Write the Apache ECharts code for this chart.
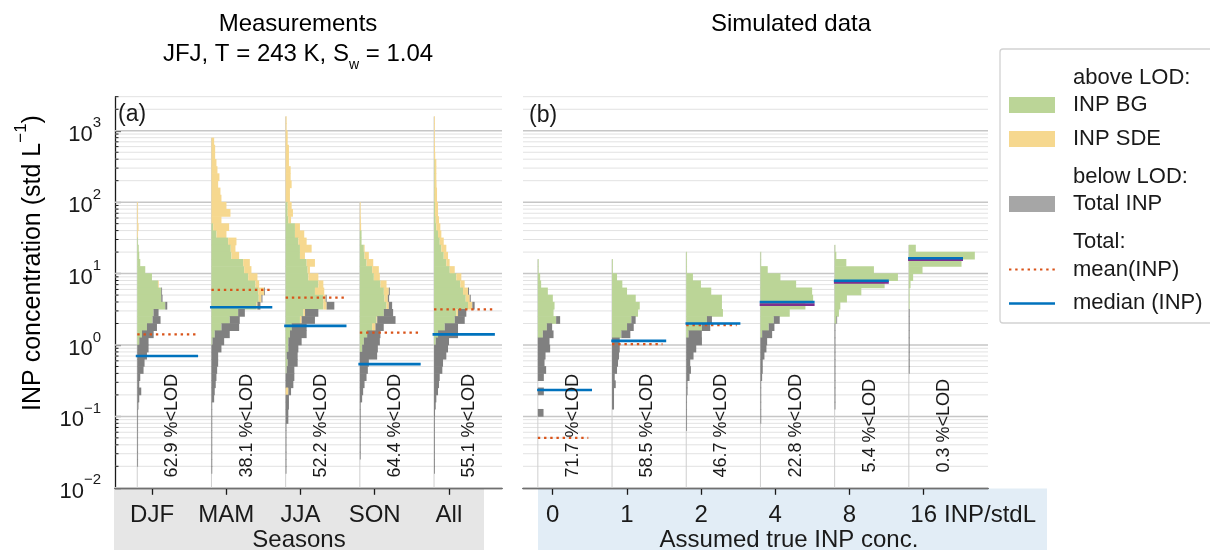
<!DOCTYPE html>
<html>
<head>
<meta charset="utf-8">
<script src="https://cdn.jsdelivr.net/npm/echarts@6/dist/echarts.min.js"></script>
<style>
html, body { margin: 0; padding: 0; background: #fff; }
#chart { width: 1210px; height: 550px; }
</style>
</head>
<body>
<div id="chart"></div>
<script>
// categories and labels
var seasons = ['DJF', 'MAM', 'JJA', 'SON', 'All'];
var trueConc = ['0', '1', '2', '4', '8', '16'];
var seasonLod = ['62.9', '38.1', '52.2', '64.4', '55.1'];
var simLod = ['71.7', '58.5', '46.7', '22.8', '5.4', '0.3'];

// mean / median lines (std L-1)
var seasonMean = [1.41, 5.9, 4.6, 1.49, 3.16];
var seasonMedian = [0.70, 3.37, 1.85, 0.54, 1.41];
var simMean = [0.05, 1.03, 1.9, null, null, null];
var simMedian = [0.234, 1.14, 2.0, 4.0, 7.95, 16.4];
var simAbove = [null, null, null, 3.67, 7.55, 15.7];

var yTicks = [0.01, 0.1, 1, 10, 100, 1000];

// histograms, 0.1 decade bins, listed from the top bin (log10 of its lower edge) downwards
// BG = INP BG above LOD, SDE = INP SDE above LOD, LOD = total INP below LOD
var djfTop = 1.9;
var djfBG  = [0, 0, 0, 0, 0, 0.6, 1.5, 2, 3, 8, 14.7, 20.7, 24, 24, 28, 16.3, 15.3, 9.7, 4.7, 2];
var djfSDE = [0.6, 0.6, 0.6, 1.3, 0.6, 0, 0, 0, 0, 0, 0, 0.7];
var djfLOD = [0, 0, 0, 0, 0, 0, 0, 0, 0, 0, 0, 0, 0.7, 1.3, 2, 5, 8, 10, 11.7, 9.3, 11.3, 9.7, 7.3, 6.3, 3, 2, 4, 2, 1.2,
              0.6, 0.6, 0.6, 0.6, 0.6, 0.6, 0.6, 0.6];

var mamTop = 2.8;
var mamBG  = [0, 0, 0, 0, 0, 0, 0, 0, 0, 0, 0, 0, 1.7, 5, 16.7, 19.3, 20, 31.7, 32.7, 36.7, 44, 46.7, 47.3, 45, 26.7, 18.3, 10, 3.3, 1];
var mamSDE = [2.7, 3.7, 3.7, 5, 6, 8, 6.7, 9, 10, 15, 19, 10, 16, 10, 8.3, 4.7, 7.7, 6.7, 7.3, 9.3, 3.7, 6, 2.7, 1];
var mamLOD = [0, 0, 0, 0, 0, 0, 0, 0, 0, 0, 0, 0, 0, 0, 0, 0, 0, 0, 0, 0, 0, 0.5, 1, 3, 6.7, 10, 17.7, 15, 11.7, 10, 6.7, 6.7, 5.7, 5, 4.3, 3.3, 2.7,
              0.6, 0.6, 0.6, 0.6, 0.6, 0.6, 0.6, 0.6, 0.6, 0.6];

var jjaTop = 3.1;
var jjaBG  = [0, 0, 0, 0, 0, 0, 0, 0, 0, 0, 0, 0, 2, 2, 2.7, 9.3, 9.3, 12.7, 14.3, 14.3, 21, 22, 22.7, 32.7, 29.3, 37.7, 37.7, 17.7, 14.3, 6, 4.3, 2.7, 2.7, 1, 2, 1];
var jjaSDE = [1, 1, 2, 2, 3.3, 3.3, 3.3, 5, 5, 6, 4.3, 4.3, 4, 5.3, 2.7, 5, 9.3, 8.3, 11.7, 5, 8.3, 2.3, 10, 5, 9.3, 2.3, 3.3, 1.7, 1.7,
              0, 0, 0, 0, 0, 0, 0, 0, 0, 2.7];
var jjaLOD = [0, 0, 0, 0, 0, 0, 0, 0, 0, 0, 0, 0, 0, 0, 0, 0, 0, 0, 0, 0, 0, 0, 0, 0, 0, 1, 7.7, 13.3, 13.3, 15, 16.7, 13.3, 10, 11, 10, 7.7, 8.7, 7.7, 2.7, 3.3, 3.3, 2.7, 2.7,
              0.6, 0.6, 0.6, 0.6, 0.6, 0.6, 0.6];

var sonTop = 1.9;
var sonBG  = [0, 0, 0, 0, 1.7, 1.7, 4, 4.7, 6.7, 12.3, 14, 20.7, 24, 24.7, 26.7, 24, 16.7, 12.3, 7.3, 4, 2.3];
var sonSDE = [0.6, 0.7, 1, 1.3, 0, 0, 0.7, 4.3, 6.7, 6.7, 6, 6, 5, 3.3, 2.3, 0, 0.7, 3.3];
var sonLOD = [0, 0, 0, 0, 0, 0, 0, 0, 0, 0, 0, 0, 1, 1.3, 3.3, 9.3, 18.3, 8.3, 13.3, 16, 15.7, 17.3, 9, 8, 6.7, 4.7, 3.3, 2.3,
              0.6, 0.6, 0.6, 0.6, 0.6, 0.6, 0.6, 0.6];

var allTop = 3.1;
var allBG  = [0, 0, 0, 0, 0, 0, 0.5, 0.5, 0.5, 0.5, 0.5, 0.5, 1, 1, 1.7, 2.3, 4, 5.7, 7.3, 9.7, 12.3, 15.7, 22.3, 26.3, 29, 31.7, 34, 22.3, 20.7, 10.7, 4, 1.7];
var allSDE = [0.6, 0.6, 0.7, 0.7, 1, 1.2, 1.8, 1.8, 1.8, 2, 2.5, 2.5, 3, 3, 3.3, 4, 3.3, 4, 5, 4.3, 3.3, 5, 5, 4.3, 5, 4, 4.3, 1.7];
var allLOD = [0, 0, 0, 0, 0, 0, 0, 0, 0, 0, 0, 0, 0, 0, 0, 0, 0, 0, 0, 0, 0, 0, 0, 0, 1, 1, 2.3, 8.3, 10, 13.3, 20, 13.3, 14, 12.3, 9, 8.3, 5.7, 5, 4, 2.3, 1.7, 1,
              0.6, 0.6, 0.6, 0.6, 0.6, 0.6, 0.6, 0.6];

var c0Top = 1.1;
var c0BG  = [0.7, 0.7, 2.3, 3.3, 10, 15, 16.7, 15.7, 18.3, 9, 5];
var c0LOD = [0, 0, 0, 0, 0, 0, 0, 0, 4, 5.3, 10.7, 11.7, 12.3, 7.7, 6.7, 8.3, 6, 0, 6, 0, 0, 5.7];

var c1Top = 1.1;
var c1BG  = [0.7, 0.7, 5, 10.3, 15, 23.7, 27.7, 26, 19.3, 15, 9.3];
var c1LOD = [0, 0, 0, 0, 0, 0, 0, 0, 4.3, 6.7, 9, 7.7, 7.7, 7, 6, 5, 2.7, 3.7, 2, 2, 2];

var c2Top = 1.2;
var c2BG  = [0.7, 0.7, 0.7, 6.7, 14.7, 25, 35.7, 35.7, 36.7, 20.7, 15.7, 2.3];
var c2LOD = [0, 0, 0, 0, 0, 0, 0, 0, 0, 5, 8.3, 13.3, 15.7, 10, 7.3, 4, 4.7, 3.3, 1.3, 1.3, 0.6, 0.6, 0.6, 0.6, 0.6];

var c4Top = 1.2;
var c4BG  = [0.7, 0.7, 7.3, 20, 35.7, 51.7, 52.7, 45, 29.3, 13.3, 8.3, 1.7];
var c4LOD = [0, 0, 0, 0, 0, 0, 0, 0, 0, 6, 5.7, 10, 6.7, 6, 4, 2.3, 2.3, 1.7, 0.6, 0.6, 0.6, 0.6, 0.6, 0.6];

var c8Top = 1.3;
var c8BG  = [0.7, 1.7, 11.7, 39.3, 63.3, 50, 26.7, 12.3, 5.7, 4.3, 1.7];
var c8LOD = [0, 0, 0, 0, 0, 0, 0, 0, 0, 0, 0.7, 0.6, 0.6, 0.6, 0.6, 0.6, 0.6, 0.6, 0.6, 0.6, 0.6, 0.6, 0.6];

var c16Top = 1.3;
var c16BG  = [7, 66, 52.7, 13.7, 4.3, 1.7, 0.6, 0.6, 0.6];
var c16LOD = [0, 0, 0, 0, 0, 0, 0, 0, 0, 0.6, 0.6, 0.6, 0.6, 0.6, 0.6, 0.6, 0.6, 0.6];

// layout / style
var FONT = '"Liberation Sans", Arial, Helvetica, sans-serif';
var INK = '#1a1a1a';
var C_BG = '#bbd597', C_SDE = '#f6d88f', C_LOD = '#808080';
var C_MEAN = '#d95319', C_MED = '#0072bd', C_PURPLE = '#7e2f8e';
var xRangeA = [-0.5, 4.716];
var xRangeB = [-0.4, 5.867];
var BASE = -0.2;          // histogram baseline relative to the category tick
var PER_COUNT = 1 / 74.2; // bar length per count, in category units
var LOD_Y = 0.074;        // vertical centre of the "% <LOD" labels

function histRows(cat, top, bg, sde, lod) {
  var n = Math.max(bg.length, sde.length, lod.length), rows = [];
  for (var i = 0; i < n; i++) {
    var lo = Math.round((top - 0.1 * i) * 10) / 10;
    rows.push([cat, Math.pow(10, lo), Math.pow(10, lo + 0.1), bg[i] || 0, sde[i] || 0, lod[i] || 0]);
  }
  return rows;
}

var histA = [].concat(
  histRows(0, djfTop, djfBG, djfSDE, djfLOD),
  histRows(1, mamTop, mamBG, mamSDE, mamLOD),
  histRows(2, jjaTop, jjaBG, jjaSDE, jjaLOD),
  histRows(3, sonTop, sonBG, sonSDE, sonLOD),
  histRows(4, allTop, allBG, allSDE, allLOD)
);
var histB = [].concat(
  histRows(0, c0Top, c0BG, [], c0LOD),
  histRows(1, c1Top, c1BG, [], c1LOD),
  histRows(2, c2Top, c2BG, [], c2LOD),
  histRows(3, c4Top, c4BG, [], c4LOD),
  histRows(4, c8Top, c8BG, [], c8LOD),
  histRows(5, c16Top, c16BG, [], c16LOD)
);
var topsA = [djfTop, mamTop, jjaTop, sonTop, allTop];
var topsB = [c0Top, c1Top, c2Top, c4Top, c8Top, c16Top];

function renderHist(params, api) {
  var x = api.value(0) + BASE, lo = api.value(1), hi = api.value(2);
  var parts = [[api.value(3), C_BG], [api.value(4), C_SDE], [api.value(5), C_LOD]];
  var children = [];
  parts.forEach(function (p) {
    if (!(p[0] > 0)) return;
    var a = api.coord([x, hi]), b = api.coord([x + p[0] * PER_COUNT, lo]);
    children.push({
      type: 'rect',
      shape: { x: a[0], y: a[1] - 0.3, width: Math.max(b[0] - a[0], 0.8), height: b[1] - a[1] + 0.6 },
      style: { fill: p[1] }
    });
    x += p[0] * PER_COUNT;
  });
  return { type: 'group', children: children };
}

// grid lines at 1..9 x 10^n
var gridVals = [];
for (var e = -2; e <= 3; e++) {
  for (var k = 1; k <= 9; k++) {
    var gv = k * Math.pow(10, e);
    if (gv <= 3000) gridVals.push([k, gv]);
  }
}
function renderGrid(range) {
  return function (params, api) {
    var v = api.value(1), a = api.coord([range[0], v]), b = api.coord([range[1], v]);
    var major = api.value(0) === 1;
    return {
      type: 'line',
      shape: { x1: a[0], y1: a[1], x2: b[0], y2: b[1] },
      style: { stroke: major ? '#c6c6c6' : '#e2e2e2', lineWidth: major ? 1.5 : 1 }
    };
  };
}
function renderMinorTick(params, api) {
  var a = api.coord([xRangeA[0], api.value(1)]);
  var len = api.value(0) === 1 ? 0 : 3.5;
  return { type: 'line', shape: { x1: a[0], y1: a[1], x2: a[0] + len, y2: a[1] }, style: { stroke: INK, lineWidth: 1 } };
}
function renderBaseline(tops) {
  return function (params, api) {
    var c = api.value(0) + BASE;
    var a = api.coord([c, 0.01]), b = api.coord([c, Math.pow(10, tops[params.dataIndex] + 0.1)]);
    return { type: 'line', shape: { x1: a[0], y1: a[1], x2: b[0], y2: b[1] }, style: { stroke: '#cfcfcf', lineWidth: 1 } };
  };
}
function renderStat(x1, x2, color, width, dash) {
  return function (params, api) {
    var c = api.value(0), v = api.value(1);
    var a = api.coord([c + x1, v]), b = api.coord([c + x2, v]);
    return {
      type: 'line',
      shape: { x1: a[0], y1: a[1], x2: b[0], y2: b[1] },
      style: { stroke: color, lineWidth: width, lineDash: dash || null }
    };
  };
}
function renderLod(labels) {
  return function (params, api) {
    var p = api.coord([api.value(0) + 0.275, api.value(1)]);
    return {
      type: 'text', x: p[0], y: p[1], rotation: Math.PI / 2,
      style: { text: labels[params.dataIndex] + ' %<LOD', fontSize: 18, fontFamily: FONT, fill: INK, align: 'center', verticalAlign: 'middle' }
    };
  };
}
function pairs(values) {
  var out = [];
  values.forEach(function (v, i) { if (v != null) out.push([i, v]); });
  return out;
}
function cats(list) { return list.map(function (s, i) { return i; }); }
function lodPoints(list) { return list.map(function (s, i) { return [i, LOD_Y]; }); }

var chart = echarts.init(document.getElementById('chart'), null, { renderer: 'canvas' });

function xAxisOf(grid, range, names) {
  return {
    type: 'value', gridIndex: grid, min: range[0], max: range[1],
    axisLine: { show: true, onZero: false, lineStyle: { color: INK, width: 1.3 } },
    axisTick: { show: true, customValues: cats(names), length: 7, lineStyle: { color: INK, width: 1.3 } },
    axisLabel: {
      customValues: cats(names), formatter: function (v) { return names[Math.round(v)]; },
      fontSize: 24, fontFamily: FONT, color: INK, margin: 16
    },
    splitLine: { show: false }
  };
}

var option = {
  animation: false,
  backgroundColor: '#fff',
  textStyle: { fontFamily: FONT },
  grid: [
    { left: 115, top: 96.7, width: 387, height: 391.1, containLabel: false, outerBoundsMode: 'none' },
    { left: 523, top: 96.7, width: 465, height: 391.1, containLabel: false, outerBoundsMode: 'none' }
  ],
  xAxis: [xAxisOf(0, xRangeA, seasons), xAxisOf(1, xRangeB, trueConc)],
  yAxis: [
    {
      type: 'log', logBase: 10, gridIndex: 0, min: 0.01, max: 3000,
      axisLine: { show: true, onZero: false, lineStyle: { color: INK, width: 1.3 } },
      axisTick: { show: true, inside: true, length: 6, customValues: yTicks, lineStyle: { color: INK, width: 1.2 } },
      axisLabel: {
        customValues: yTicks, margin: 14, color: INK,
        formatter: function (v) { return '{b|10}{s|' + String(Math.round(Math.log10(v))).replace('-', '\u2212') + '}'; },
        rich: {
          b: { fontSize: 22, fontFamily: FONT, color: INK, lineHeight: 30, verticalAlign: 'bottom' },
          s: { fontSize: 15, fontFamily: FONT, color: INK, verticalAlign: 'top' }
        }
      },
      splitLine: { show: false }
    },
    { type: 'log', logBase: 10, gridIndex: 1, min: 0.01, max: 3000, show: false, axisLine: { onZero: false } }
  ],
  series: [
    { type: 'custom', xAxisIndex: 0, yAxisIndex: 0, z: 1, silent: true, data: gridVals, renderItem: renderGrid(xRangeA) },
    { type: 'custom', xAxisIndex: 1, yAxisIndex: 1, z: 1, silent: true, data: gridVals, renderItem: renderGrid(xRangeB) },
    { type: 'custom', xAxisIndex: 0, yAxisIndex: 0, z: 5, silent: true, data: gridVals, renderItem: renderMinorTick },
    { type: 'custom', xAxisIndex: 0, yAxisIndex: 0, z: 2, silent: true, data: lodPoints(seasons), renderItem: renderBaseline(topsA) },
    { type: 'custom', xAxisIndex: 1, yAxisIndex: 1, z: 2, silent: true, data: lodPoints(trueConc), renderItem: renderBaseline(topsB) },
    { type: 'custom', name: 'hist A', xAxisIndex: 0, yAxisIndex: 0, z: 3, data: histA, renderItem: renderHist },
    { type: 'custom', name: 'hist B', xAxisIndex: 1, yAxisIndex: 1, z: 3, data: histB, renderItem: renderHist },
    { type: 'custom', name: 'mean A', xAxisIndex: 0, yAxisIndex: 0, z: 4, data: pairs(seasonMean), renderItem: renderStat(-0.2, 0.6, C_MEAN, 2.2, [2.4, 3.8]) },
    { type: 'custom', name: 'median A', xAxisIndex: 0, yAxisIndex: 0, z: 4, data: pairs(seasonMedian), renderItem: renderStat(-0.22, 0.62, C_MED, 2.6) },
    { type: 'custom', name: 'mean B', xAxisIndex: 1, yAxisIndex: 1, z: 4, data: pairs(simMean), renderItem: renderStat(-0.2, 0.48, C_MEAN, 2.2, [2.4, 3.8]) },
    { type: 'custom', name: 'above B', xAxisIndex: 1, yAxisIndex: 1, z: 4, data: pairs(simAbove), renderItem: renderStat(-0.21, 0.53, C_PURPLE, 2.8) },
    { type: 'custom', name: 'median B', xAxisIndex: 1, yAxisIndex: 1, z: 4, data: pairs(simMedian), renderItem: renderStat(-0.21, 0.53, C_MED, 2.6) },
    { type: 'custom', xAxisIndex: 0, yAxisIndex: 0, z: 6, silent: true, data: lodPoints(seasonLod), renderItem: renderLod(seasonLod) },
    { type: 'custom', xAxisIndex: 1, yAxisIndex: 1, z: 6, silent: true, data: lodPoints(simLod), renderItem: renderLod(simLod) }
  ],
  graphic: [
    { type: 'rect', z: -5, shape: { x: 114, y: 488.5, width: 370, height: 62 }, style: { fill: '#e6e6e6' } },
    { type: 'rect', z: -5, shape: { x: 538, y: 488.5, width: 509, height: 62 }, style: { fill: '#e2edf6' } },
    { type: 'text', x: 298, y: 24, style: { text: 'Measurements', fontSize: 24, fontFamily: FONT, fill: '#000', align: 'center', verticalAlign: 'middle' } },
    { type: 'text', x: 298, y: 57, style: {
        text: '{t|JFJ, T = 243 K, S}{u|w}{t| = 1.04}', align: 'center', verticalAlign: 'middle',
        rich: {
          t: { fontSize: 24, fontFamily: FONT, fill: '#000', lineHeight: 30, verticalAlign: 'top' },
          u: { fontSize: 14, fontFamily: FONT, fill: '#000', verticalAlign: 'bottom' }
        } } },
    { type: 'text', x: 791, y: 24, style: { text: 'Simulated data', fontSize: 24, fontFamily: FONT, fill: '#000', align: 'center', verticalAlign: 'middle' } },
    { type: 'text', x: 118, y: 115, z: 10, style: { text: '(a)', fontSize: 23, fontFamily: FONT, fill: INK, align: 'left', verticalAlign: 'middle' } },
    { type: 'text', x: 529, y: 116, z: 10, style: { text: '(b)', fontSize: 23, fontFamily: FONT, fill: INK, align: 'left', verticalAlign: 'middle' } },
    { type: 'text', x: 29, y: 263, rotation: Math.PI / 2, style: {
        text: '{t|INP concentration (std L}{s|\u22121}{t|)}', align: 'center', verticalAlign: 'middle',
        rich: {
          t: { fontSize: 25, fontFamily: FONT, fill: '#000', lineHeight: 33, verticalAlign: 'bottom' },
          s: { fontSize: 17, fontFamily: FONT, fill: '#000', verticalAlign: 'top' }
        } } },
    { type: 'text', x: 299, y: 540, style: { text: 'Seasons', fontSize: 24, fontFamily: FONT, fill: INK, align: 'center', verticalAlign: 'middle' } },
    { type: 'text', x: 789, y: 540, style: { text: 'Assumed true INP conc.', fontSize: 24, fontFamily: FONT, fill: INK, align: 'center', verticalAlign: 'middle' } },
    { type: 'text', x: 944, y: 515, style: { text: 'INP/stdL', fontSize: 24, fontFamily: FONT, fill: INK, align: 'left', verticalAlign: 'middle' } },
    // legend
    { type: 'rect', z: 20, shape: { x: 1000, y: 49, width: 216, height: 274, r: 3 }, style: { fill: '#fff', stroke: '#d2d2d2', lineWidth: 1.3 } },
    { type: 'text', z: 21, x: 1073, y: 78, style: { text: 'above LOD:', fontSize: 22, fontFamily: FONT, fill: INK, verticalAlign: 'middle' } },
    { type: 'rect', z: 21, shape: { x: 1009, y: 97, width: 46, height: 16 }, style: { fill: C_BG } },
    { type: 'text', z: 21, x: 1073, y: 105, style: { text: 'INP BG', fontSize: 22, fontFamily: FONT, fill: INK, verticalAlign: 'middle' } },
    { type: 'rect', z: 21, shape: { x: 1009, y: 131, width: 46, height: 16 }, style: { fill: C_SDE } },
    { type: 'text', z: 21, x: 1073, y: 139, style: { text: 'INP SDE', fontSize: 22, fontFamily: FONT, fill: INK, verticalAlign: 'middle' } },
    { type: 'text', z: 21, x: 1073, y: 177, style: { text: 'below LOD:', fontSize: 22, fontFamily: FONT, fill: INK, verticalAlign: 'middle' } },
    { type: 'rect', z: 21, shape: { x: 1009, y: 196, width: 46, height: 16 }, style: { fill: '#a6a6a6' } },
    { type: 'text', z: 21, x: 1073, y: 204, style: { text: 'Total INP', fontSize: 22, fontFamily: FONT, fill: INK, verticalAlign: 'middle' } },
    { type: 'text', z: 21, x: 1073, y: 242, style: { text: 'Total:', fontSize: 22, fontFamily: FONT, fill: INK, verticalAlign: 'middle' } },
    { type: 'line', z: 21, shape: { x1: 1009, y1: 269.5, x2: 1055, y2: 269.5 }, style: { stroke: C_MEAN, lineWidth: 2, lineDash: [2.4, 3.8] } },
    { type: 'text', z: 21, x: 1073, y: 270, style: { text: 'mean(INP)', fontSize: 22, fontFamily: FONT, fill: INK, verticalAlign: 'middle' } },
    { type: 'line', z: 21, shape: { x1: 1009, y1: 303.5, x2: 1055, y2: 303.5 }, style: { stroke: C_MED, lineWidth: 2.4 } },
    { type: 'text', z: 21, x: 1073, y: 303, style: { text: 'median (INP)', fontSize: 22, fontFamily: FONT, fill: INK, verticalAlign: 'middle' } }
  ]
};

chart.setOption(option);
</script>
</body>
</html>
